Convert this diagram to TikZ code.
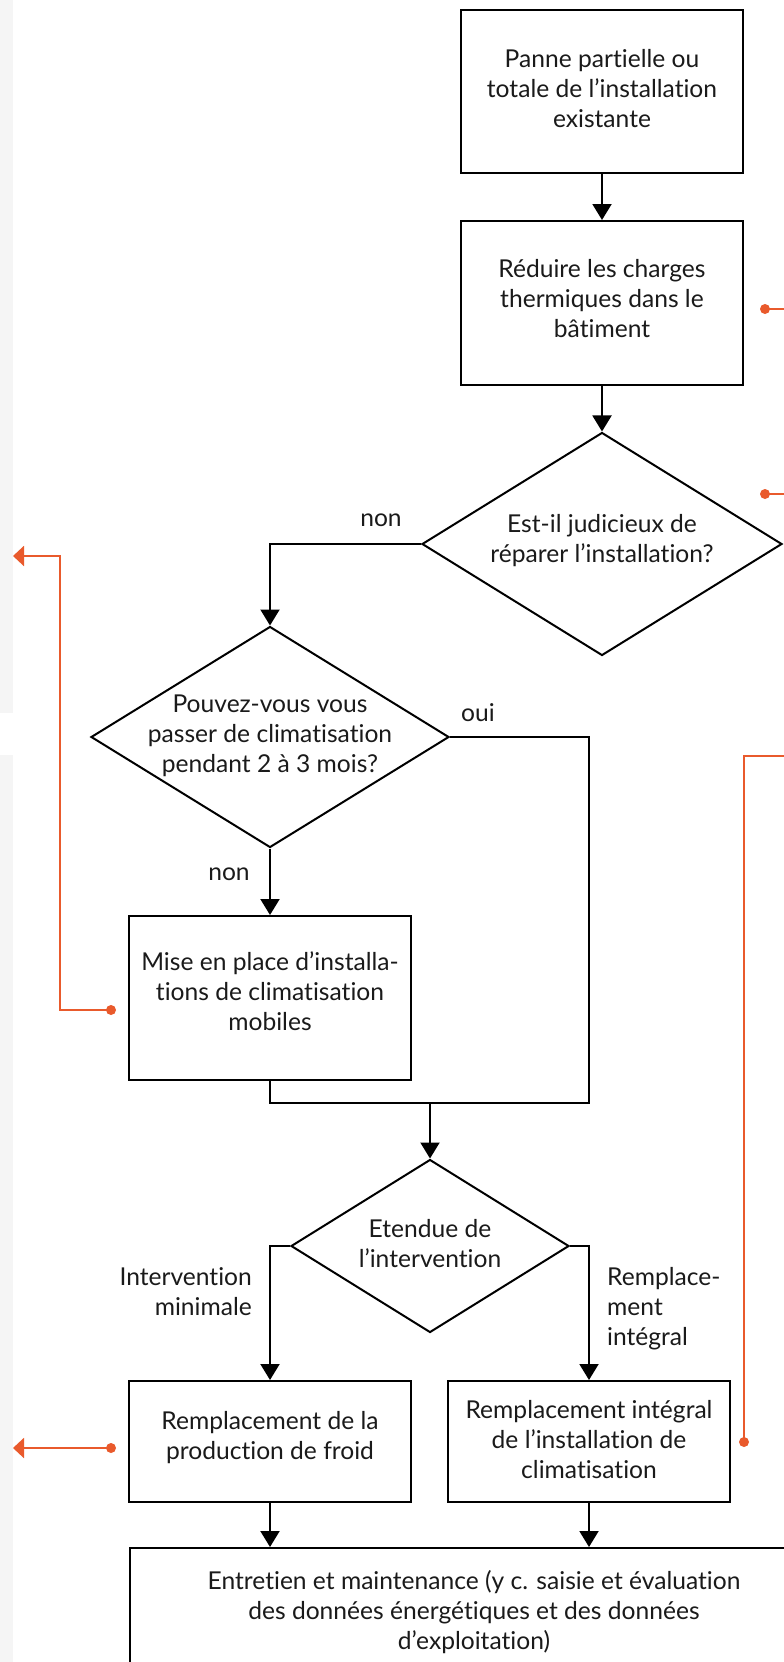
\documentclass[tikz,border=0pt]{standalone}
\usepackage{fontspec}
\setmainfont{Lato}[Ligatures=NoCommon]
\usetikzlibrary{shapes.geometric,arrows.meta}
\definecolor{orng}{HTML}{E95A2C}
\definecolor{bggray}{HTML}{F5F5F5}
\definecolor{ink}{HTML}{1A1A1A}
\begin{document}
\begin{tikzpicture}[x=1pt,y=-1pt,
  font=\fontsize{24.6}{30}\selectfont,
  box/.style={draw=black, line width=2pt, rectangle, inner sep=0pt},
  dia/.style={draw=black, line width=2pt, diamond, inner sep=0pt},
  txt/.style={align=center, text=ink, inner sep=0pt},
  flow/.style={draw=black, line width=2pt, -{Triangle[width=19pt,length=16pt]}},
  plain/.style={draw=black, line width=2pt},
  oline/.style={draw=orng, line width=2pt},
  oarrow/.style={draw=orng, line width=2pt, -{Triangle[width=20pt,length=11pt]}},
  odot/.style={fill=orng}
]
\path[use as bounding box] (0,0) rectangle (784,1662);
\clip (0,0) rectangle (784,1662);
\fill[white] (0,0) rectangle (784,1662);
\fill[bggray] (0,0) rectangle (13,713);
\fill[bggray] (0,755) rectangle (13,1662);

% boxes
\node[box, minimum width=282pt, minimum height=163pt] (b1) at (602,91.5) {};
\node[txt] (t1) at (602,89) {Panne partielle ou\\totale de l’installation\\existante};
\node[box, minimum width=282pt, minimum height=164pt] (b2) at (602,303) {};
\node[txt] (t2) at (602,298.5) {Réduire les charges\\thermiques dans le\\bâtiment};
\node[dia, minimum width=360pt, minimum height=223pt] (d1) at (602,544) {};
\node[txt] (t3) at (602,541) {Est-il judicieux de\\réparer l’installation?};
\node[dia, minimum width=358pt, minimum height=221pt] (d2) at (270,737) {};
\node[txt] (t4) at (270,736) {Pouvez-vous vous\\passer de climatisation\\pendant 2 à 3 mois?};
\node[box, minimum width=282pt, minimum height=164pt] (b3) at (270,998) {};
\node[txt] (t5) at (270,991.5) {Mise en place d’installa-\\tions de climatisation\\mobiles};
\node[dia, minimum width=278pt, minimum height=173pt] (d3) at (430,1246) {};
\node[txt] (t6) at (430,1243.5) {Etendue de\\l’intervention};
\node[box, minimum width=282pt, minimum height=121pt] (b4) at (270,1441.5) {};
\node[txt] (t7) at (270,1437.5) {Remplacement de la\\production de froid};
\node[box, minimum width=282pt, minimum height=121pt] (b5) at (589,1441.5) {};
\node[txt] (t8) at (589,1439.5) {Remplacement intégral\\de l’installation de\\climatisation};
\node[box, minimum width=690pt, minimum height=140pt, anchor=north] (b6) at (475,1547) {};
\node[txt] (t9) at (474,1612.5) {Entretien et maintenance (y c. saisie et évaluation\\des données énergétiques et des données\\d’exploitation)};

% labels
\node[txt] (l1) at (381,520) {non};
\node[txt] (l2) at (478,713) {oui};
\node[txt] (l3) at (229,874) {non};
\node[txt, align=right, anchor=east] (l4) at (252,1291.5) {Intervention\\minimale};
\node[txt, align=left, anchor=west] (l5) at (607,1309) {Remplace-\\ment\\intégral};

% black connectors
\coordinate (jl) at (270,1103);
\coordinate (jm) at (430,1103);
\coordinate (jr) at (589,1103);
\draw[flow] (b1) -- (b2);
\draw[flow] (b2) -- (d1);
\draw[flow] (d1.west) -| (d2.north);
\draw[flow] (d2) -- (b3);
\draw[plain] (b3.south) -- (jl) -- (jr) |- (d2.east);
\draw[flow] (jm) -- (d3.north);
\draw[flow] (d3.west) -| (b4.north);
\draw[flow] (d3.east) -| (b5.north);
\draw[flow] (b4.south) -- (b4.south |- b6.north);
\draw[flow] (b5.south) -- (b5.south |- b6.north);

% orange connectors
\coordinate (p1) at (765,309);
\coordinate (e1) at (790,309);
\coordinate (p2) at (765,494);
\coordinate (e2) at (790,494);
\coordinate (e3) at (790,756);
\coordinate (c3) at (744,756);
\coordinate (p3) at (744,1442);
\coordinate (p4) at (111,1010);
\coordinate (c4a) at (60,1010);
\coordinate (c4b) at (60,556);
\coordinate (a4) at (13,556);
\coordinate (p5) at (111,1448);
\coordinate (a5) at (13,1448);
\draw[oline] (p1) -- (e1);
\fill[odot] (p1) circle (5pt);
\draw[oline] (p2) -- (e2);
\fill[odot] (p2) circle (5pt);
\draw[oline] (e3) -- (c3) -- (p3);
\fill[odot] (p3) circle (5pt);
\draw[oarrow] (p4) -- (c4a) -- (c4b) -- (a4);
\fill[odot] (p4) circle (5pt);
\draw[oarrow] (p5) -- (a5);
\fill[odot] (p5) circle (5pt);
\end{tikzpicture}
\end{document}
